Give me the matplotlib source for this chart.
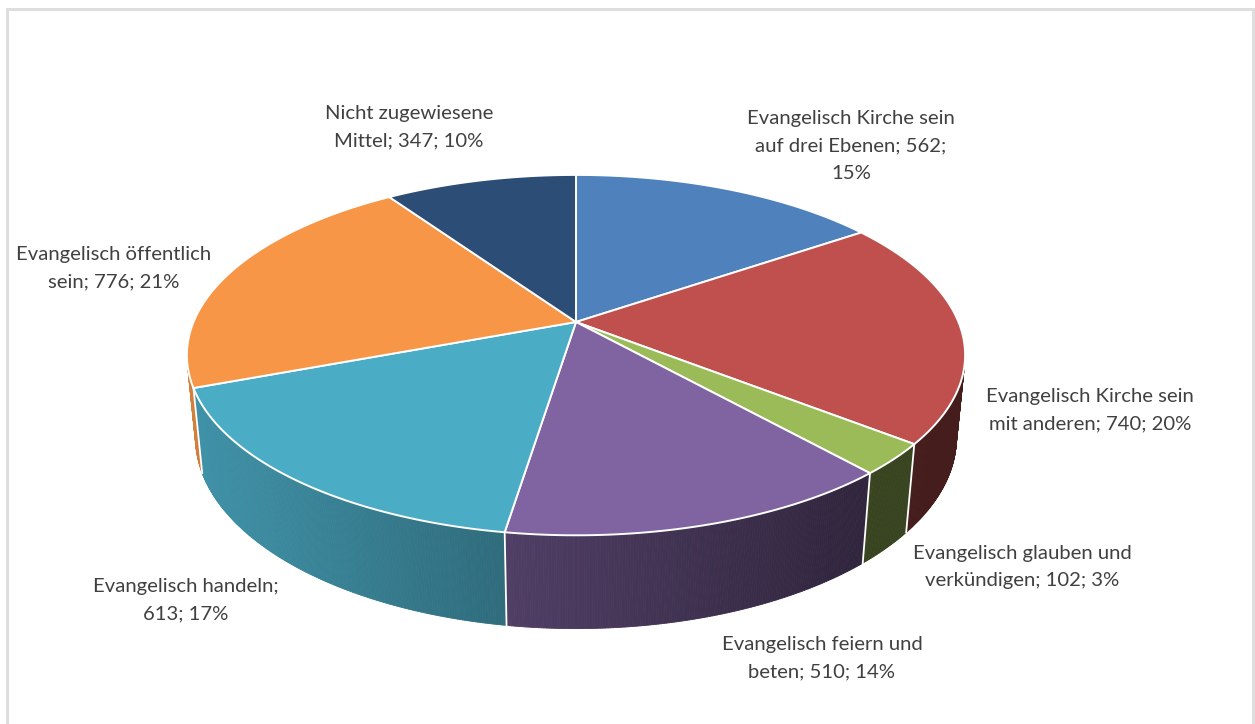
# 3D pie chart (Excel style) drawn with matplotlib patches in pixel coordinates

import numpy as np
import matplotlib.pyplot as plt
from matplotlib.patches import Polygon
from matplotlib.collections import PolyCollection
from matplotlib.colors import to_rgb

# Data ........................................................................
labels = [
    "Evangelisch Kirche sein\nauf drei Ebenen; 562;\n15%",
    "Evangelisch Kirche sein\nmit anderen; 740; 20%",
    "Evangelisch glauben und\nverkündigen; 102; 3%",
    "Evangelisch feiern und\nbeten; 510; 14%",
    "Evangelisch handeln;\n613; 17%",
    "Evangelisch öffentlich\nsein; 776; 21%",
    "Nicht zugewiesene\nMittel; 347; 10%",
]
values = [562, 740, 102, 510, 613, 776, 347]
colors = ["#4f81bd", "#c0504d", "#9bbb59", "#8064a2", "#4bacc6", "#f79646", "#2c4d75"]
label_pos = [(851, 146), (1090, 410), (1022, 567), (822, 658),
             (186, 600), (114, 268), (409, 127)]

# Projection ..................................................................
cx, cy = 576, 322
f = 1895.0
xscale = 0.982
D = 4.87
s, c = 0.447, 0.894
depth = 0.238


def project(theta, z=0.0):
    # theta in degrees, clockwise from the back (12 o'clock)
    t = np.radians(theta)
    X, Y = np.sin(t), np.cos(t)
    ry = Y + D * c
    rz = z - D * s
    yc = s * ry + c * rz
    zc = c * ry - s * rz
    return cx + xscale * f * X / zc, cy - f * yc / zc


def shade(x):
    return float(np.clip(0.85 - 0.00071 * (x - 190), 0.36, 0.9))


fig = plt.figure(figsize=(12.55, 7.24), dpi=100)
ax = fig.add_axes([0, 0, 1, 1])
ax.set_xlim(0, 1255)
ax.set_ylim(724, 0)
ax.axis("off")

# chart border
ax.plot([7, 7, 1253, 1253], [730, 9, 9, 730], color="#dedede", lw=2.2,
        solid_joinstyle="miter")

cum = np.concatenate([[0], np.cumsum(values)]) / sum(values) * 360
sil = np.degrees(np.arccos(-1 / (D * c)))
vis_lo, vis_hi = sil, 360 - sil

# Side walls ..................................................................
quads, qcols = [], []
for i in range(len(values)):
    a, b = max(cum[i], vis_lo), min(cum[i + 1], vis_hi)
    if b <= a:
        continue
    th = np.linspace(a, b, max(int((b - a) * 3), 2))
    base = np.array(to_rgb(colors[i]))
    for t0, t1 in zip(th[:-1], th[1:]):
        p0, p1 = project(t0), project(t1)
        q0, q1 = project(t0, -depth), project(t1, -depth)
        quads.append([p0, p1, q1, q0])
        col = base * shade((p0[0] + p1[0]) / 2)
        qcols.append(col)
ax.add_collection(PolyCollection(quads, facecolors=qcols, edgecolors=qcols, lw=0.6))

# white seams between walls
for t in cum:
    if vis_lo < t < vis_hi:
        p, q = project(t), project(t, -depth)
        ax.plot([p[0], q[0]], [p[1], q[1]], color="white", lw=1.3)

# Top surfaces ................................................................
for i in range(len(values)):
    th = np.linspace(cum[i], cum[i + 1], 200)
    pts = [project(t) for t in th]
    ax.add_patch(Polygon([(cx, cy)] + pts, closed=True, facecolor=colors[i],
                         edgecolor="white", lw=1.4, joinstyle="round"))

# Labels ......................................................................
for lab, (x, y) in zip(labels, label_pos):
    ax.text(x, y, lab, ha="center", va="center", fontsize=14.6,
            family=["Lato", "DejaVu Sans"], color="#404040", linespacing=1.72)

fig.savefig("out.png", dpi=100)
